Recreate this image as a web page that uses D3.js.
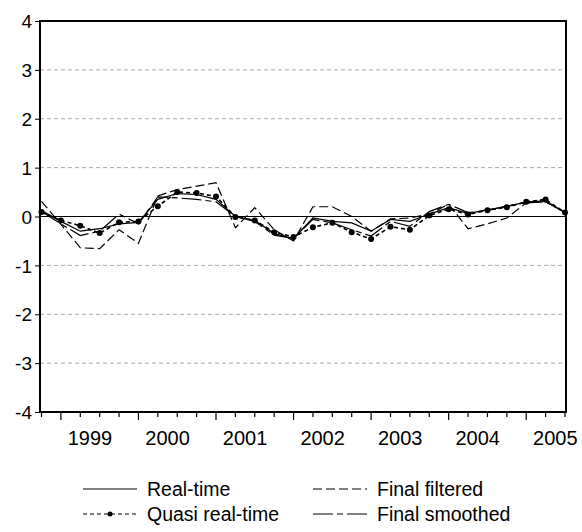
<!DOCTYPE html>
<html>
<head>
<meta charset="utf-8">
<script src="https://cdn.jsdelivr.net/npm/d3@7"></script>
<style>
  body { margin: 0; background: #fff; }
  text { font-family: "Liberation Sans", Arial, sans-serif; fill: #000; }
</style>
</head>
<body>
<svg id="chart" width="582" height="532"></svg>
<script>
// quarterly observations, 1998Q4 .. 2005Q3
const quarters = d3.range(28)
const years = ['1999', '2000', '2001', '2002', '2003', '2004', '2005']
const yTicks = [-4, -3, -2, -1, 0, 1, 2, 3, 4]

const realTime = [0.12, -0.1, -0.3, -0.25, -0.15, -0.12, 0.35, 0.47, 0.45, 0.35, 0.0, -0.08, -0.35, -0.45,
  -0.03, -0.1, -0.13, -0.3, -0.06, -0.1, 0.05, 0.18, 0.06, 0.14, 0.2, 0.3, 0.32, 0.08]
const quasiRealTime = [0.09, -0.08, -0.19, -0.34, -0.12, -0.1, 0.21, 0.5, 0.48, 0.41, -0.01, -0.08, -0.32, -0.42,
  -0.22, -0.13, -0.32, -0.46, -0.21, -0.27, 0.02, 0.15, 0.04, 0.13, 0.19, 0.3, 0.35, 0.08]
const finalFiltered = [0.31, -0.16, -0.64, -0.66, -0.27, -0.55, 0.42, 0.55, 0.62, 0.69, -0.23, 0.18, -0.27, -0.5,
  0.2, 0.2, 0.0, -0.3, -0.05, -0.03, 0.05, 0.25, -0.25, -0.15, -0.03, 0.28, 0.3, 0.08]
const finalSmoothed = [0.1, -0.15, -0.39, -0.3, 0.05, -0.15, 0.4, 0.38, 0.35, 0.3, 0.0, -0.1, -0.38, -0.45,
  -0.06, -0.13, -0.27, -0.4, -0.1, -0.2, 0.1, 0.25, 0.08, 0.12, 0.22, 0.28, 0.3, 0.08]

const plotLeft = 40
const plotRight = 566
const plotTop = 21
const plotBottom = 412

const svg = d3.select('#chart')

const xscale = d3.scaleLinear()
  .domain([0, 27])
  .range([plotLeft + 1.5, plotRight - 1])

const yscale = d3.scaleLinear()
  .domain([-4, 4])
  .range([plotBottom, plotTop])

// grid
svg.append('g')
  .selectAll('line')
  .data(yTicks.filter((d) => d !== 0 && d !== 4 && d !== -4))
  .enter()
  .append('line')
  .attr('x1', plotLeft)
  .attr('x2', plotRight)
  .attr('y1', (d) => yscale(d))
  .attr('y2', (d) => yscale(d))
  .attr('stroke', '#aaa')
  .attr('stroke-width', 1)
  .attr('stroke-dasharray', '4,3')

svg.append('line')
  .attr('x1', plotLeft)
  .attr('x2', plotRight)
  .attr('y1', yscale(0))
  .attr('y2', yscale(0))
  .attr('stroke', '#000')
  .attr('stroke-width', 1.2)

// left axis (plain hyphen for negatives, like the original)
const leftAxis = d3.axisLeft(yscale)
  .tickValues(yTicks)
  .tickSize(5)
  .tickPadding(3)
  .tickFormat((d) => String(d))
const gy = svg.append('g')
  .attr('transform', `translate(${plotLeft}, 0)`)
  .call(leftAxis)
gy.select('.domain').remove()
gy.selectAll('text').style('font-size', '19px').attr('dy', '0.35em')

// bottom axis: quarterly ticks, longer at each year start
const gx = svg.append('g')
gx.selectAll('line')
  .data(quarters)
  .enter()
  .append('line')
  .attr('x1', (d) => xscale(d))
  .attr('x2', (d) => xscale(d))
  .attr('y1', plotBottom)
  .attr('y2', (d) => plotBottom + ((d - 1) % 4 === 0 ? 8 : 5))
  .attr('stroke', '#000')
  .attr('stroke-width', 1.2)

gx.selectAll('text')
  .data(years)
  .enter()
  .append('text')
  .text((d) => d)
  .attr('x', (d, i) => xscale(1 + i * 4 + 1.5))
  .attr('y', plotBottom + 33)
  .attr('text-anchor', 'middle')
  .style('font-size', '20px')

// frame
svg.append('rect')
  .attr('x', plotLeft)
  .attr('y', plotTop)
  .attr('width', plotRight - plotLeft)
  .attr('height', plotBottom - plotTop)
  .attr('fill', 'none')
  .attr('stroke', '#000')
  .attr('stroke-width', 2)

const series = [
  { name: 'Real-time', values: realTime, dash: null, dots: false },
  { name: 'Quasi real-time', values: quasiRealTime, dash: '4,3', dots: true },
  { name: 'Final filtered', values: finalFiltered, dash: '9,4', dots: false },
  { name: 'Final smoothed', values: finalSmoothed, dash: '20,4,6,4', dots: false }
]

const line = d3.line()
  .x((d, i) => xscale(i))
  .y((d) => yscale(d))

svg.append('g')
  .selectAll('path')
  .data(series)
  .enter()
  .append('path')
  .attr('d', (d) => line(d.values))
  .attr('fill', 'none')
  .attr('stroke', '#000')
  .attr('stroke-width', (d) => d.dots ? 1.6 : 1.2)
  .attr('stroke-dasharray', (d) => d.dash)

svg.append('g')
  .selectAll('circle')
  .data(quasiRealTime)
  .enter()
  .append('circle')
  .attr('cx', (d, i) => xscale(i))
  .attr('cy', (d) => yscale(d))
  .attr('r', 3)
  .attr('fill', '#000')

// legend
const legendPos = [[83, 489], [83, 514], [313, 489], [313, 514]]
const legend = svg.append('g')
  .selectAll('g')
  .data(series)
  .enter()
  .append('g')
  .attr('transform', (d, i) => `translate(${legendPos[i][0]}, ${legendPos[i][1]})`)

legend.append('line')
  .attr('x1', 0)
  .attr('x2', 54)
  .attr('stroke', '#000')
  .attr('stroke-width', 1.2)
  .attr('stroke-dasharray', (d) => d.dash)

legend.filter((d) => d.dots)
  .append('circle')
  .attr('cx', 27)
  .attr('r', 2.5)
  .attr('fill', '#000')

legend.append('text')
  .text((d) => d.name)
  .attr('x', 64)
  .attr('dy', '0.35em')
  .style('font-size', '19.5px')
</script>
</body>
</html>
